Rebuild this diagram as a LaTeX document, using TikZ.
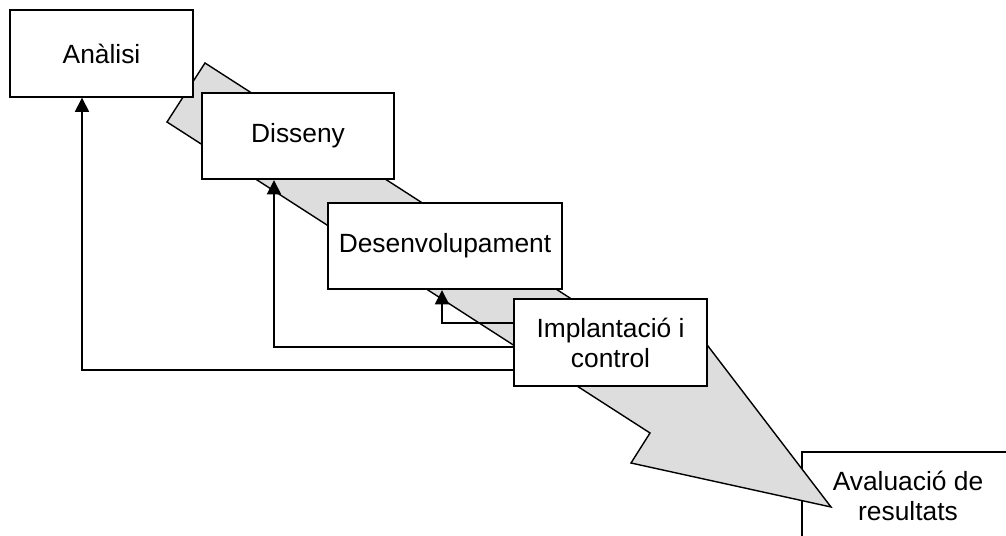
\documentclass[tikz,border=0pt]{standalone}
\usepackage{fontspec}
\setmainfont{Liberation Sans}
\usetikzlibrary{arrows.meta}

\begin{document}
\begin{tikzpicture}[x=0.02cm, y=-0.02cm]
    \tikzstyle{phase}=[rectangle, draw, line width=1.1pt, fill=white, align=center, minimum height=1.73cm, font=\fontsize{15}{17}\selectfont]
    \tikzstyle{back}=[draw, line width=0.8pt, -{Triangle[width=8pt,length=8pt]}]

    \clip (0,0) rectangle (1006,536);

    % last phase sits under the arrow tip
    \node[phase, minimum width=4.24cm, minimum height=1.76cm] (ava) at (908,496) {Avaluació de\\resultats};

    % big flow arrow behind the phases
    \draw[fill=gray!27, line width=0.8pt, line join=miter] (205,63) -- (660,356) -- (685,316) -- (831,507)
        -- (631,463) -- (650,433) -- (167,122) -- cycle;

    \node[phase, minimum width=3.66cm] (ana) at (101.5,53.5) {Anàlisi};
    \node[phase, minimum width=3.84cm] (dis) at (298,136) {Disseny};
    \node[phase, minimum width=4.68cm] (des) at (445,246) {Desenvolupament};
    \node[phase, minimum width=3.86cm] (imp) at (610.5,342.5) {Implantació i\\control};

    % feedback lines
    \foreach \dy/\dest/\dx in {0.39/des/-0.06, -0.09/dis/-0.48, -0.55/ana/-0.39} {
        \draw[back] ([yshift=\dy cm]imp.west) -| ([xshift=\dx cm]\dest.south);
    }
\end{tikzpicture}
\end{document}
